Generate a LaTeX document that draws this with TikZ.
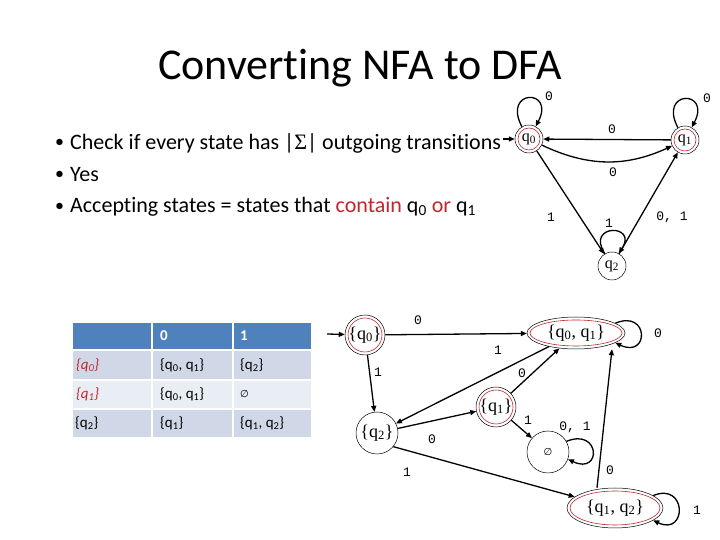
\documentclass[tikz,border=0pt]{standalone}
\usepackage{fontspec}
\setmainfont{Carlito}[Ligatures={NoCommon}]
\newfontfamily\stfont{Liberation Serif}
\newfontfamily\lbfont{Liberation Mono}
\newfontfamily\symfont{DejaVu Sans}
\usetikzlibrary{arrows.meta,shapes.geometric,calc}
\definecolor{accred}{RGB}{192,40,45}
\definecolor{hdr}{RGB}{79,129,189}
\definecolor{rowa}{RGB}{208,216,232}
\definecolor{rowb}{RGB}{233,237,244}
\begin{document}
\begin{tikzpicture}[x=1pt,y=1pt,
  st/.style={draw=black, line width=0.5pt, inner sep=0pt, font=\stfont\fontsize{18}{18}\selectfont},
  nst/.style={st, circle, minimum size=28pt, font=\stfont\fontsize{16}{16}\selectfont},
  acc/.style={path picture={\draw[accred,line width=0.6pt] let \p1=(path picture bounding box.north east), \p2=(path picture bounding box.center) in (\p2) ellipse [x radius=\x1-\x2-3pt, y radius=\y1-\y2-3pt];}},
  e/.style={-{Triangle[length=6pt,width=5pt]}, line width=1.3pt},
  lab/.style={font=\lbfont\fontsize{13}{13}\selectfont, inner sep=0pt},
  bul/.style={anchor=west, inner sep=0pt, font=\fontsize{22}{22}\selectfont},
  cell/.style={anchor=west, inner sep=0pt, font=\fontsize{15}{15}\selectfont},
  hcell/.style={cell, text=white, font=\bfseries\fontsize{15}{15}\selectfont},
  rcell/.style={cell, text=accred, font=\itshape\fontsize{15}{15}\selectfont}
]
\useasboundingbox (0,0) rectangle (720,540);
\fill[white] (0,0) rectangle (720,540);

% title and bullets
\node[font=\fontsize{44}{44}\selectfont, inner sep=0pt, anchor=base] (title) at (360,460) {Converting NFA to DFA};
\node[bul, font=\fontsize{18}{18}\selectfont] (d1) at (55,397) {•};
\node[bul, font=\fontsize{18}{18}\selectfont] (d2) at (55,365) {•};
\node[bul, font=\fontsize{18}{18}\selectfont] (d3) at (55,333) {•};
\node[bul] (b1) at (70,397) {Check if every state has |{\stfont Σ}| outgoing transitions};
\node[bul] (b2) at (70,365) {Yes};
\node[bul] (b3) at (70,333) {Accepting states = states that \textcolor{accred}{contain} q\textsubscript{0} \textcolor{accred}{or} q\textsubscript{1}};

% NFA
\node[nst, acc] (q0) at (529,401) {q\textsubscript{0}};
\node[nst, acc] (q1) at (685,400) {q\textsubscript{1}};
\node[nst] (q2) at (612,274) {q\textsubscript{2}};
\coordinate (s0) at (503,401);
\draw[e] (s0) -- (q0);
\draw[e] (q0.120) .. controls +(-20,38) and +(20,38) .. (q0.62) node[lab] at (549,444) {0};
\draw[e] (q1.120) .. controls +(-20,38) and +(20,38) .. (q1.62) node[lab] at (707,442) {0};
\draw[e] (q2.120) .. controls +(-20,30) and +(20,30) .. (q2.62) node[lab] at (609,317) {1};
\draw[e] (q1) -- (q0) node[lab] at (612,411) {0};
\draw[e] (q0) to[bend right=25] (q1) node[lab] at (613,368) {0};
\draw[e] (q0) -- (q2) node[lab] at (551,323) {1};
\draw[e] (q2) -- (q1) node[lab] at (672,323) {0, 1};

% table
\fill[hdr]  (73,191) rectangle (151,217);
\fill[hdr]  (153,191) rectangle (232,217);
\fill[hdr]  (234,191) rectangle (311,217);
\fill[rowa] (73,161) rectangle (151,189);
\fill[rowa] (153,161) rectangle (232,189);
\fill[rowa] (234,161) rectangle (311,189);
\fill[rowb] (73,132) rectangle (151,159);
\fill[rowb] (153,132) rectangle (232,159);
\fill[rowb] (234,132) rectangle (311,159);
\fill[rowa] (73,103) rectangle (151,130);
\fill[rowa] (153,103) rectangle (232,130);
\fill[rowa] (234,103) rectangle (311,130);
\node[hcell] (h0) at (160,204) {0};
\node[hcell] (h1) at (240,204) {1};
\node[rcell] (r1) at (76,175) {\{q\textsubscript{0}\}};
\node[cell] (c11) at (160,175) {\{q\textsubscript{0}, q\textsubscript{1}\}};
\node[cell] (c12) at (240,175) {\{q\textsubscript{2}\}};
\node[rcell] (r2) at (76,146) {\{q\textsubscript{1}\}};
\node[cell] (c21) at (160,146) {\{q\textsubscript{0}, q\textsubscript{1}\}};
\node[cell, font=\symfont\fontsize{10}{10}\selectfont] (c22) at (240,146) {∅};
\node[cell] (r3) at (75,117) {\{q\textsubscript{2}\}};
\node[cell] (c31) at (160,117) {\{q\textsubscript{1}\}};
\node[cell] (c32) at (240,117) {\{q\textsubscript{1}, q\textsubscript{2}\}};

% DFA
\node[st, circle, minimum size=40pt, acc] (A) at (365,205) {\{q\textsubscript{0}\}};
\node[st, ellipse, minimum width=98pt, minimum height=32pt, acc] (B) at (576,207) {\{q\textsubscript{0}, q\textsubscript{1}\}};
\node[st, circle, minimum size=40pt, acc] (C) at (496,133) {\{q\textsubscript{1}\}};
\node[st, circle, minimum size=42pt] (D) at (377,107) {\{q\textsubscript{2}\}};
\node[st, circle, minimum size=42pt, font=\symfont\fontsize{10}{10}\selectfont] (E) at (548,88) {∅};
\node[st, ellipse, minimum width=96pt, minimum height=40pt, acc] (F) at (615,32) {\{q\textsubscript{1}, q\textsubscript{2}\}};
\coordinate (s1) at (327,206);
\draw[e] (s1) -- (A);
\draw[e] (A) -- (B) node[lab] at (418,220) {0};
\draw[e] (A) -- (D) node[lab] at (378,168) {1};
\draw[e] (B) -- (D) node[lab] at (498,190) {1};
\draw[e] (C) -- (B) node[lab] at (522,167) {0};
\draw[e] (D) -- (C) node[lab] at (432,101) {0};
\draw[e] (C) -- (E) node[lab] at (528,120) {1};
\draw[e] (D.-40) -- (F) node[lab] at (407,68) {1};
\draw[e] ([xshift=-18pt]F.north) -- ([xshift=36pt]B.south) node[lab] at (610,70) {0};
\draw[e] (B.14) .. controls +(34,14) and +(34,-16) .. (B.-14) node[lab] at (658,207) {0};
\draw[e] (E.30) .. controls +(34,14) and +(34,-16) .. (E.-20) node[lab] at (575,113) {0, 1};
\draw[e] (F.18) .. controls +(34,14) and +(34,-16) .. (F.-18) node[lab] at (697,30) {1};
\end{tikzpicture}
\end{document}
